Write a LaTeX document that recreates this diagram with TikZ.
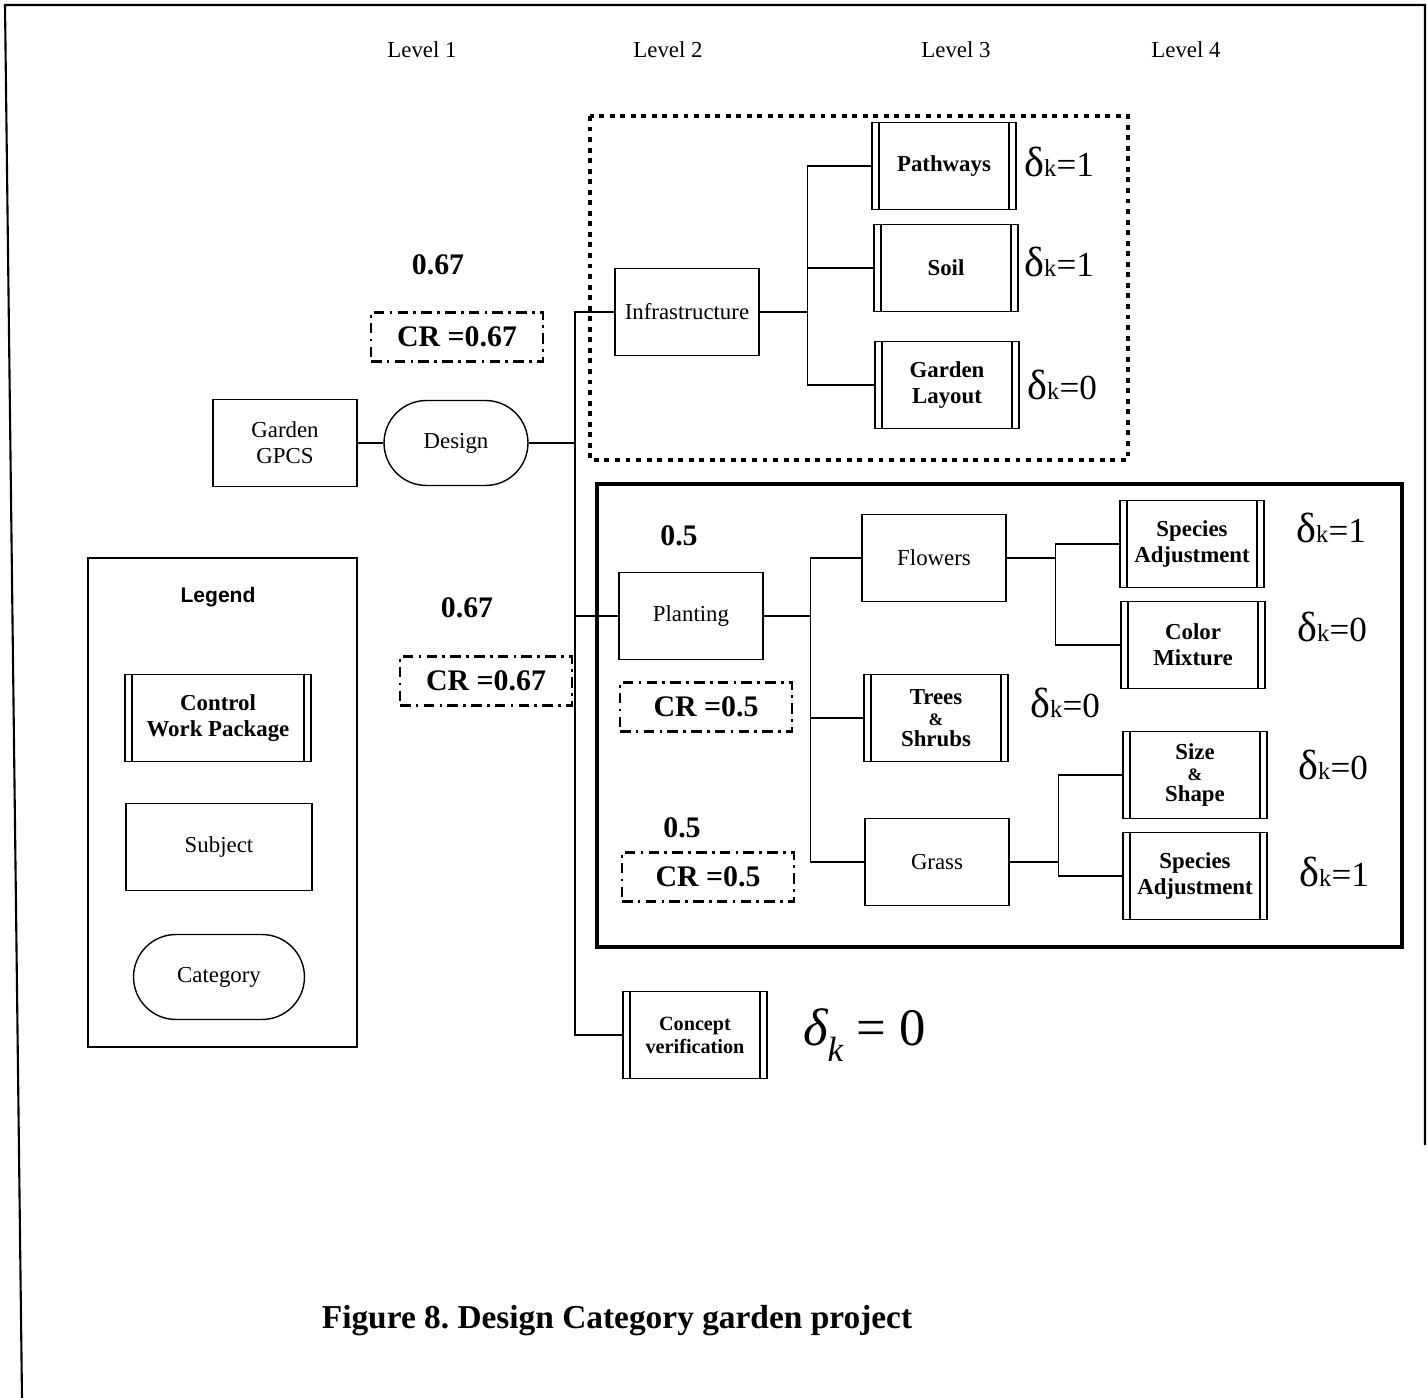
\documentclass[tikz,border=0pt]{standalone}
\usepackage{fontspec}
\setmainfont{Liberation Serif}
\newfontfamily\legendfont{Liberation Sans}
\usepackage{tikz}
\usetikzlibrary{positioning,calc}
\frenchspacing

% delta_k labels next to the control work packages
\newcommand{\dk}[1]{{\fontsize{24}{26}\selectfont δ}{\fontsize{14}{16}\selectfont k}{\fontsize{20}{22}\selectfont =#1}}
\newcommand{\amp}{{\fontsize{10}{10}\selectfont\&}}

\begin{document}
\begin{tikzpicture}[
  x=0.02cm, y=-0.02cm,
  subject/.style={draw, line width=0.8pt, minimum width=2.88cm, minimum height=1.74cm, inner sep=0pt, align=center, font=\fontsize{13}{15}\selectfont},
  workpkg/.style={subject, font=\fontsize{13}{15}\selectfont\bfseries,
    path picture={\draw[line width=0.8pt]
      ([xshift=0.14cm]path picture bounding box.north west) -- ([xshift=0.14cm]path picture bounding box.south west)
      ([xshift=-0.14cm]path picture bounding box.north east) -- ([xshift=-0.14cm]path picture bounding box.south east);}},
  category/.style={subject, rounded corners=0.85cm, minimum height=1.7cm},
  crbox/.style={draw, line width=1.2pt, dash pattern=on 6pt off 3pt on 1.5pt off 3pt, minimum width=3.44cm, minimum height=0.98cm, font=\fontsize{17}{19}\selectfont\bfseries},
  weight/.style={font=\fontsize{17}{19}\selectfont\bfseries},
  levellabel/.style={font=\fontsize{13}{15}\selectfont},
  deltalabel/.style={anchor=west, inner sep=0pt},
  link/.style={line width=0.8pt}
]
  \useasboundingbox (0,0) rectangle (1427,1398);
  % page frame
  \draw[line width=1.2pt] (22,1398) -- (5,5) -- (1425,5) -- (1425,1145);

  % levels
  \node[levellabel] (lev1) at (422,50) {Level 1};
  \node[levellabel] (lev2) at (668,50) {Level 2};
  \node[levellabel] (lev3) at (956,50) {Level 3};
  \node[levellabel] (lev4) at (1186,50) {Level 4};

  % groups
  \draw[line width=2.8pt, dash pattern=on 2.8pt off 3.2pt] (590,116) rectangle (1128,460);
  \draw[line width=2.2pt] (597,484) rectangle (1402,947);

  % level 1
  \node[subject] (gpcs) at (285,443) {Garden\\GPCS};
  \node[category] (design) at (456,443) {Design};
  \node[weight] (w1) at (438,265) {0.67};
  \node[crbox] (cr1) at (457,337) {CR =0.67};
  \node[weight] (w2) at (467,608) {0.67};
  \node[crbox] (cr2) at (486,681) {CR =0.67};

  % level 2
  \node[subject] (infra) at (687,312) {Infrastructure};
  \node[subject] (plant) at (691,616) {Planting};
  \node[workpkg, font=\fontsize{11.5}{13}\selectfont\bfseries] (concept) at (695,1035) {Concept\\verification};
  \node[anchor=west] (dconcept) at (797,1035) {\fontsize{30}{32}\selectfont\itshape δ\raisebox{-9pt}{\fontsize{20}{22}\selectfont k}\upshape\ = 0};
  \node[weight] (w3) at (679,536) {0.5};
  \node[crbox] (cr3) at (706,707) {CR =0.5};
  \node[weight] (w4) at (682,828) {0.5};
  \node[crbox] (cr4) at (708,877) {CR =0.5};

  % level 3
  \node[workpkg] (path) at (944,166) {Pathways};
  \node[workpkg] (soil) at (946,268) {Soil};
  \node[workpkg] (layout) at (947,385) {Garden\\Layout};
  \node[deltalabel] (dpath) at (1024,162) {\dk{1}};
  \node[deltalabel] (dsoil) at (1024,262) {\dk{1}};
  \node[deltalabel] (dlayout) at (1027,385) {\dk{0}};
  \node[subject] (flowers) at (934,558) {Flowers};
  \node[workpkg] (trees) at (936,718) {Trees\\[-3pt]\amp\\[-3pt]Shrubs};
  \node[subject] (grass) at (937,862) {Grass};
  \node[deltalabel] (dtrees) at (1030,703) {\dk{0}};

  % level 4
  \node[workpkg] (species1) at (1192,544) {Species\\Adjustment};
  \node[workpkg] (color) at (1193,645) {Color\\Mixture};
  \node[workpkg] (size) at (1195,775) {Size\\[-3pt]\amp\\[-3pt]Shape};
  \node[workpkg] (species2) at (1195,876) {Species\\Adjustment};
  \node[deltalabel] (dspecies1) at (1296,528) {\dk{1}};
  \node[deltalabel] (dcolor) at (1297,627) {\dk{0}};
  \node[deltalabel] (dsize) at (1298,765) {\dk{0}};
  \node[deltalabel] (dspecies2) at (1299,872) {\dk{1}};

  % legend
  \draw[line width=0.8pt] (88,558) rectangle (357,1047);
  \node[font=\legendfont\fontsize{12}{14}\selectfont\bfseries] (legtitle) at (218,597) {Legend};
  \node[workpkg, minimum width=3.72cm] (legwp) at (218,718) {Control\\Work Package};
  \node[subject, minimum width=3.72cm] (legsubj) at (219,847) {Subject};
  \node[category, minimum width=3.42cm] (legcat) at (219,977) {Category};

  % connectors
  \coordinate (trunk) at (575,443);
  \draw[link] (gpcs) -- (design);
  \draw[link] (design.east) -- (trunk);
  \draw[link] (trunk) |- (infra.west);
  \draw[link] (trunk) |- (plant.west);
  \draw[link] (trunk) |- (concept.west);

  \coordinate (infork) at ($(infra.east)+(48,0)$);
  \draw[link] (infra.east) -- (infork);
  \foreach \n in {path,soil,layout}
    \draw[link] (infork) |- (\n.west);

  \coordinate (plfork) at ($(plant.east)+(47,0)$);
  \draw[link] (plant.east) -- (plfork);
  \foreach \n in {flowers,trees,grass}
    \draw[link] (plfork) |- (\n.west);

  \coordinate (flfork) at ($(flowers.east)+(49,0)$);
  \draw[link] (flowers.east) -- (flfork);
  \foreach \n in {species1,color}
    \draw[link] (flfork) |- (\n.west);

  \coordinate (grfork) at ($(grass.east)+(49,0)$);
  \draw[link] (grass.east) -- (grfork);
  \foreach \n in {size,species2}
    \draw[link] (grfork) |- (\n.west);

  % caption
  \node[font=\fontsize{19}{22}\selectfont\bfseries] (caption) at (617,1321) {Figure 8. Design Category garden project};
\end{tikzpicture}
\end{document}
